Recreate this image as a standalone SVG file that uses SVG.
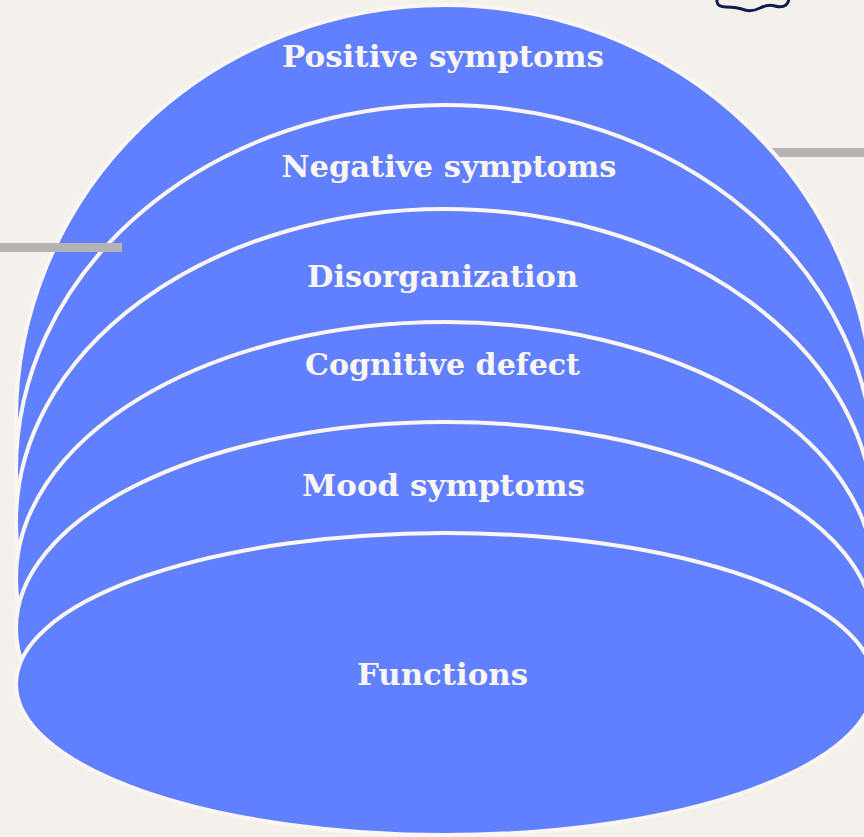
<svg xmlns="http://www.w3.org/2000/svg" width="864" height="837" viewBox="0 0 864 837">
  <style>
    .layer { fill: #6080ff; stroke: #fbf6f1; stroke-width: 4; }
    .label { font-family: "DejaVu Serif", "Liberation Serif", serif; font-size: 30px; font-weight: 600; fill: #fbf6f1; text-anchor: middle; }
    .bar { fill: #b4b4b4; }
  </style>
  <rect x="0" y="0" width="864" height="837" fill="#f4f0eb"/>
  <rect class="bar" x="770" y="148" width="94" height="9"/>
  <path d="M717,-2 L717,2 Q718,7 726,7 Q737,7 745,10 Q752,12 760,8 Q768,4 775,6 Q782,8 786,5 Q789,2 789,-2" fill="none" stroke="#0f1c50" stroke-width="3" stroke-linecap="round"/>
  <g id="layer1">
    <ellipse class="layer" cx="445" cy="420" rx="429" ry="415"/>
    <text class="label" x="443" y="67" textLength="322" lengthAdjust="spacingAndGlyphs">Positive symptoms</text>
  </g>
  <g id="layer2">
    <ellipse class="layer" cx="445" cy="470" rx="429" ry="365"/>
    <text class="label" x="449" y="177" textLength="335" lengthAdjust="spacingAndGlyphs">Negative symptoms</text>
  </g>
  <g id="layer3">
    <ellipse class="layer" cx="445" cy="522" rx="429" ry="313"/>
    <text class="label" x="442.5" y="287" textLength="271" lengthAdjust="spacingAndGlyphs">Disorganization</text>
  </g>
  <g id="layer4">
    <ellipse class="layer" cx="445" cy="578.5" rx="429" ry="256.5"/>
    <text class="label" x="442.5" y="375" textLength="275" lengthAdjust="spacingAndGlyphs">Cognitive defect</text>
  </g>
  <g id="layer5">
    <ellipse class="layer" cx="445" cy="628.5" rx="429" ry="206.5"/>
    <text class="label" x="443.5" y="496" textLength="283" lengthAdjust="spacingAndGlyphs">Mood symptoms</text>
  </g>
  <g id="layer6">
    <ellipse class="layer" cx="445" cy="684" rx="429" ry="151"/>
    <text class="label" x="442.5" y="685" textLength="171" lengthAdjust="spacingAndGlyphs">Functions</text>
  </g>
  <rect class="bar" x="0" y="243" width="122" height="9"/>
</svg>
